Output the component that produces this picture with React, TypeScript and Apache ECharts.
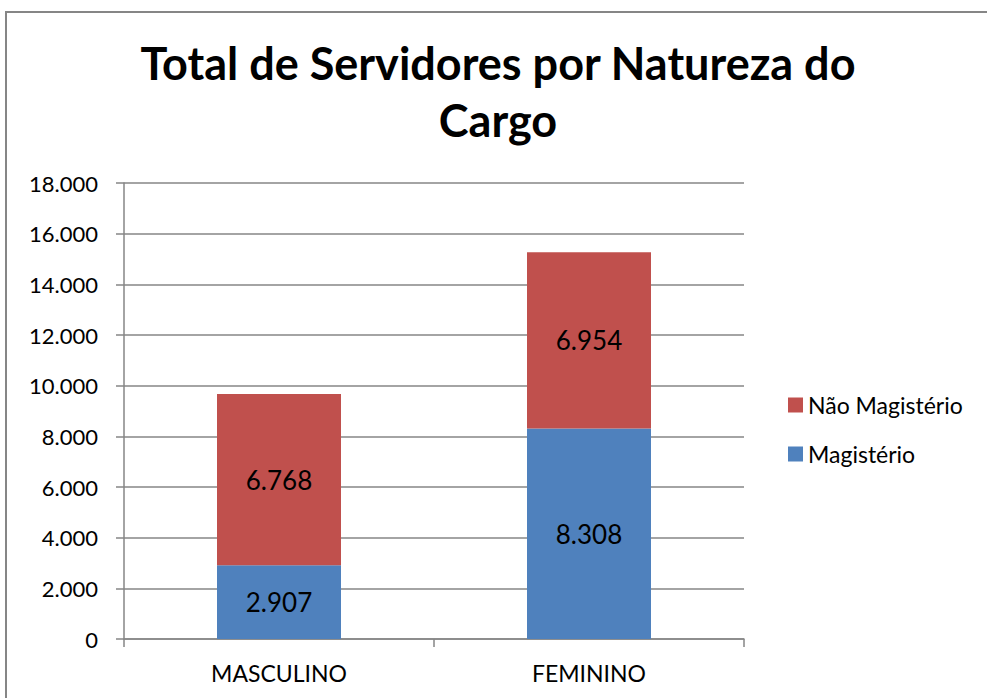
import React, { useEffect, useRef } from "react";
import * as echarts from "echarts";

const categories = ["MASCULINO", "FEMININO"];
const magisterio = [2907, 8308];
const naoMagisterio = [6768, 6954];
const yTicks = { min: 0, max: 18000, interval: 2000 };

const FONT = "Lato, 'Open Sans', sans-serif";
const fmt = (v: number) => String(Math.round(v)).replace(/\B(?=(\d{3})+(?!\d))/g, ".");

export default function App() {
  const ref = useRef<HTMLDivElement>(null);
  useEffect(() => {
    const chart = echarts.init(ref.current!, null, { renderer: "svg" });
    chart.setOption({
      animation: false,
      backgroundColor: "#ffffff",
      title: {
        text: "Total de Servidores por Natureza do\nCargo",
        left: 493,
        top: 29,
        textAlign: "center",
        textStyle: { fontFamily: FONT, fontSize: 45, fontWeight: "bold", color: "#000", lineHeight: 57 },
      },
      graphic: [
        {
          type: "rect",
          shape: { x: 6, y: 12, width: 1200, height: 900 },
          style: { fill: "none", stroke: "#868686", lineWidth: 2 },
          silent: true,
        },
      ],
      legend: {
        orient: "vertical",
        left: 783,
        top: 388,
        itemWidth: 15,
        itemHeight: 15,
        itemGap: 25,
        icon: "rect",
        data: ["Não Magistério", "Magistério"],
        textStyle: { fontFamily: FONT, fontSize: 23, lineHeight: 24, color: "#000" },
      },
      grid: { left: 124, right: 243, top: 183, bottom: 59, containLabel: false },
      xAxis: {
        type: "category",
        data: categories,
        axisLine: { lineStyle: { color: "#868686", width: 1.5 } },
        axisTick: { show: true, length: 8, alignWithLabel: false, lineStyle: { color: "#868686", width: 1.5 } },
        axisLabel: { fontFamily: FONT, fontSize: 23, color: "#000", margin: 22 },
      },
      yAxis: {
        type: "value",
        min: yTicks.min,
        max: yTicks.max,
        interval: yTicks.interval,
        axisLine: { show: true, lineStyle: { color: "#868686", width: 1.5 } },
        axisTick: { show: true, length: 8, lineStyle: { color: "#868686", width: 1.5 } },
        splitLine: { show: true, lineStyle: { color: "#868686", width: 1.5 } },
        axisLabel: { fontFamily: FONT, fontSize: 22, color: "#000", margin: 26, formatter: (v: number) => fmt(v) },
      },
      series: [
        {
          name: "Magistério",
          type: "bar",
          stack: "total",
          data: magisterio,
          barWidth: "40%",
          itemStyle: { color: "#4F81BD" },
          label: { show: true, position: "inside", fontFamily: FONT, fontSize: 26, color: "#000", formatter: (p: any) => fmt(p.value) },
        },
        {
          name: "Não Magistério",
          type: "bar",
          stack: "total",
          data: naoMagisterio,
          barWidth: "40%",
          itemStyle: { color: "#C0504D" },
          label: { show: true, position: "inside", fontFamily: FONT, fontSize: 26, color: "#000", formatter: (p: any) => fmt(p.value) },
        },
      ],
    });
    return () => chart.dispose();
  }, []);
  return <div ref={ref} style={{ position: "fixed", left: 0, top: 0, width: 987, height: 698 }} />;
}
